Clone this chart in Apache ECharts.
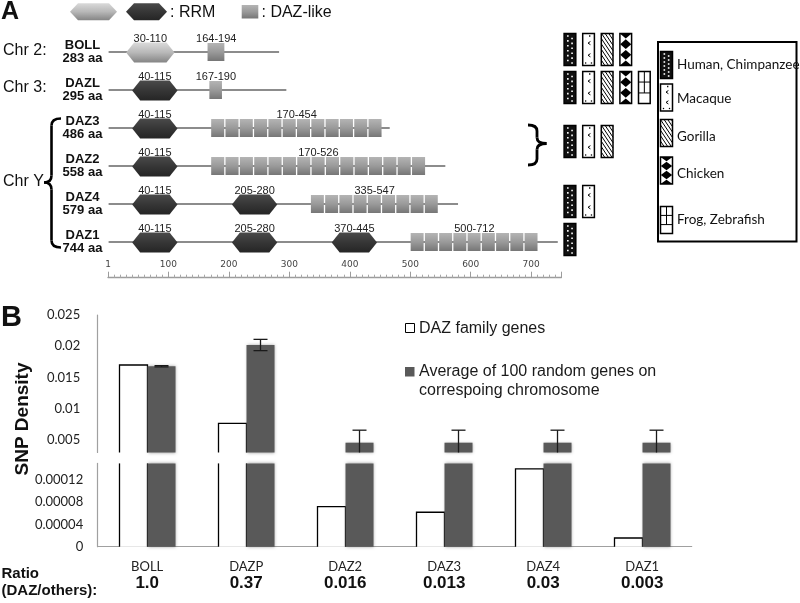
<!DOCTYPE html>
<html><head><meta charset="utf-8">
<script src="https://cdn.jsdelivr.net/npm/echarts@6.0.0/dist/echarts.min.js"></script>
<style>html,body{margin:0;padding:0;background:#fff;}#chart{width:800px;height:603px;}</style>
</head><body><div id="chart"></div>
<script>
// ---------- Panel A data ----------
const genes = ['BOLL', 'DAZL', 'DAZ3', 'DAZ2', 'DAZ4', 'DAZ1'];
const geneLengths = [283, 295, 486, 558, 579, 744];
const drawnLengths = [283, 295, 466, 558, 579, 744];
const chrLabels = ['Chr 2:', 'Chr 3:', 'Chr Y'];
const rrmGene = [0, 1, 2, 3, 4, 4, 5, 5, 5];
const rrmStarts = [30, 40, 40, 40, 40, 205, 40, 205, 370];
const rrmEnds = [110, 115, 115, 115, 115, 280, 115, 280, 445];
const rrmDark = [0, 1, 1, 1, 1, 1, 1, 1, 1];
const dazGene = [0, 1, 2, 3, 4, 5];
const dazStarts = [164, 167, 170, 170, 335, 500];
const dazEnds = [194, 190, 454, 526, 547, 712];
const dazRepeats = [1, 1, 12, 15, 9, 9];
const species = ['Human, Chimpanzee', 'Macaque', 'Gorilla', 'Chicken', 'Frog, Zebrafish'];
const consGroups = [[0], [1], [2, 3], [4], [5]];
const consPresence = [[1, 1, 1, 1, 0], [1, 1, 1, 1, 1], [1, 1, 1, 0, 0], [1, 1, 0, 0, 0], [1, 0, 0, 0, 0]];
const rulerMax = 750;
const rulerStep = 100;

// ---------- Panel B data ----------
const snpGenes = ['BOLL', 'DAZP', 'DAZ2', 'DAZ3', 'DAZ4', 'DAZ1'];
const dazFamilySnp = [0.0170, 0.00767, 0.000072, 0.000062, 0.000140, 0.0000157];
const randomSnp = [0.0168, 0.0202, 0.00457, 0.00457, 0.00457, 0.00457];
const randomErr = [0.0001, 0.0009, 0.0020, 0.0020, 0.0020, 0.0020];
const ratioLabels = ['1.0', '0.37', '0.016', '0.013', '0.03', '0.003'];
const upperTicks = [0.005, 0.01, 0.015, 0.02, 0.025];
const lowerTicks = [0, 0.00004, 0.00008, 0.00012];
const upperRange = [0.003, 0.025];
const lowerRange = [0, 0.00015];
const legendB = ['DAZ family genes', 'Average of 100 random genes on', 'correspoing chromosome'];

// ---------- helpers ----------
const ARIAL = 'Liberation Sans, Arial, sans-serif';
const CALI = 'Lato, Carlito, sans-serif';
function grad(stops) { return new echarts.graphic.LinearGradient(0, 0, 0, 1, stops.map((c, i) => ({ offset: i / (stops.length - 1), color: c }))); }
function lightHex() { return grad(['#dadada', '#b8b8b8', '#858585']); }
function darkHex() { return grad(['#4a4a4a', '#363636', '#252525']); }
function boxGrad() { return grad(['#b4b4b4', '#9a9a9a', '#767676']); }
function hexPts(x0, x1, yc, h, ins) {
  return [[x0, yc], [x0 + ins, yc - h / 2], [x1 - ins, yc - h / 2], [x1, yc], [x1 - ins, yc + h / 2], [x0 + ins, yc + h / 2]];
}
function hatch(x, y, w, h, step, k) {
  const out = [];
  for (let c = -h / k; c < w; c += step) {
    const t0 = Math.max(0, -c), t1 = Math.min(w - c, h / k);
    if (t1 > t0) out.push({ type: 'line', shape: { x1: x + c + t0, y1: y + k * t0, x2: x + c + t1, y2: y + k * t1 }, style: { stroke: '#000', lineWidth: 1 } });
  }
  return out;
}
function sq(cx, cy, s, col) { return { type: 'rect', shape: { x: cx - s / 2, y: cy - s / 2, width: s, height: s }, style: { fill: col } }; }
function speciesIcon(s, x, y, w, h) {
  const ch = [];
  const bg = { type: 'rect', shape: { x: x, y: y, width: w, height: h }, style: { fill: '#fff' } };
  if (s === 0) {
    ch.push({ type: 'rect', shape: { x: x, y: y, width: w, height: h }, style: { fill: '#111' } });
    const n = 6, dy = (h - 5) / (n - 0.5);
    for (let i = 0; i < n; i++) {
      ch.push(sq(x + w * 0.32, y + 2.5 + i * dy, 1.6, '#fff'));
      ch.push(sq(x + w * 0.68, y + 2.5 + dy / 2 + i * dy, 1.6, '#fff'));
    }
  } else if (s === 1) {
    ch.push(bg);
    [0.3, 0.68].forEach(f => {
      const cx = x + w * 0.55, cy = y + h * f;
      ch.push({ type: 'polyline', shape: { points: [[cx + 1.3, cy - 1.6], [cx - 1.1, cy], [cx + 1.3, cy + 1.6]] }, style: { stroke: '#000', lineWidth: 1, fill: 'none' } });
    });
    ch.push(sq(x + w * 0.6, y + 2.5, 1.3, '#000'));
    ch.push(sq(x + w * 0.25, y + h - 2.5, 1.3, '#000'));
    ch.push(sq(x + w * 0.75, y + h - 2.5, 1.3, '#000'));
  } else if (s === 2) {
    ch.push(bg);
    hatch(x, y, w, h, 3.6, 1.5).forEach(l => ch.push(l));
  } else if (s === 3) {
    ch.push(bg);
    const dh = h / 6 * 0.92, cx = x + w / 2;
    ch.push({ type: 'polygon', shape: { points: [[x, y], [x + w, y], [cx, y + dh]] }, style: { fill: '#000' } });
    ch.push({ type: 'polygon', shape: { points: [[x, y + h], [x + w, y + h], [cx, y + h - dh]] }, style: { fill: '#000' } });
    [1, 2].forEach(k => {
      const cy = y + k * h / 3;
      ch.push({ type: 'polygon', shape: { points: [[cx, cy - dh], [x + w - 0.3, cy], [cx, cy + dh], [x + 0.3, cy]] }, style: { fill: '#000' } });
    });
  } else {
    ch.push(bg);
    const l = (x1, y1, x2, y2) => ({ type: 'line', shape: { x1, y1, x2, y2 }, style: { stroke: '#000', lineWidth: 1 } });
    ch.push(l(x, y + h * 0.33, x + w, y + h * 0.33));
    ch.push(l(x, y + h * 0.67, x + w, y + h * 0.67));
    ch.push(l(x + w / 2, y, x + w / 2, y + h * 0.67));
  }
  ch.push({ type: 'rect', shape: { x: x, y: y, width: w, height: h }, style: { fill: 'none', stroke: '#000', lineWidth: 1.5 } });
  return ch;
}
// curly brace built from lines and quadratic curves; dir = -1 tip to left, +1 tip to right
function brace(xv, xe, tipX, yTop, yMid, yBot, r, lw) {
  const st = { stroke: '#000', lineWidth: lw, fill: 'none' };
  const q = (x1, y1, cx, cy, x2, y2) => ({ type: 'bezierCurve', shape: { x1, y1, cpx1: cx, cpy1: cy, x2, y2 }, style: st });
  const l = (x1, y1, x2, y2) => ({ type: 'line', shape: { x1, y1, x2, y2 }, style: st });
  return [
    q(xe, yTop, xv, yTop, xv, yTop + r),
    l(xv, yTop + r, xv, yMid - r),
    q(xv, yMid - r, xv, yMid, tipX, yMid),
    q(tipX, yMid, xv, yMid, xv, yMid + r),
    l(xv, yMid + r, xv, yBot - r),
    q(xv, yBot - r, xv, yBot, xe, yBot)
  ];
}

// ---------- series data built from arrays ----------
const lineData = genes.map((g, i) => [i, 1, drawnLengths[i]]);
const rrmData = rrmGene.map((g, i) => [g, rrmStarts[i], rrmEnds[i], rrmDark[i]]);
const dazData = dazGene.map((g, i) => [g, dazStarts[i], dazEnds[i], dazRepeats[i]]);
const iconData = [];
consPresence.forEach((row, g) => row.forEach((p, s) => { if (p) iconData.push([s, g]); }));
const whiteData = snpGenes.map((g, i) => [i, dazFamilySnp[i]]);
const darkData = snpGenes.map((g, i) => [i, randomSnp[i]]);
const errData = snpGenes.map((g, i) => [i, randomSnp[i], randomErr[i]]);

const BARF = 0.283;
function whiteBar(p, api) {
  const i = api.value(0), v = api.value(1), cs = p.coordSys;
  const bw = api.size([1, 0])[0] * BARF;
  const base = api.coord([i, 0]), top = api.coord([i, v]);
  const yb = Math.min(base[1], cs.y + cs.height);
  const yt = Math.max(top[1], cs.y);
  if (yt >= yb) return null;
  const x0 = Math.round(base[0] - bw) + 0.5, x1 = Math.round(base[0]) + 0.5;
  const ch = [{ type: 'rect', shape: { x: x0, y: yt, width: x1 - x0, height: yb - yt }, style: { fill: '#fff' } }];
  const st = { stroke: '#000', lineWidth: 1.3, fill: 'none' };
  if (top[1] >= cs.y) {
    ch.push({ type: 'polyline', shape: { points: [[x0, yb], [x0, yt], [x1, yt], [x1, yb]] }, style: st });
  } else {
    ch.push({ type: 'line', shape: { x1: x0, y1: yb, x2: x0, y2: yt }, style: st });
    ch.push({ type: 'line', shape: { x1: x1, y1: yb, x2: x1, y2: yt }, style: st });
  }
  return { type: 'group', children: ch };
}
function darkBar(p, api) {
  const i = api.value(0), v = api.value(1), cs = p.coordSys;
  const bw = api.size([1, 0])[0] * BARF;
  const base = api.coord([i, 0]), top = api.coord([i, v]);
  const yb = Math.min(base[1], cs.y + cs.height);
  const yt = Math.max(top[1], cs.y);
  if (yt >= yb) return null;
  const x0 = Math.round(base[0]) + 0.5;
  return { type: 'rect', shape: { x: x0, y: yt, width: bw, height: yb - yt }, style: { fill: '#595959', shadowBlur: 3, shadowColor: 'rgba(0,0,0,0.35)' } };
}
function errBar(p, api) {
  const i = api.value(0), v = api.value(1), e = api.value(2), cs = p.coordSys;
  const bw = api.size([1, 0])[0] * BARF;
  const base = api.coord([i, v]);
  const x = Math.round(base[0]) + 0.5 + bw / 2;
  const hi = api.coord([i, v + e])[1], lo = api.coord([i, v - e])[1];
  const y1 = Math.max(hi, cs.y), y2 = Math.min(lo, cs.y + cs.height);
  const st = { stroke: '#1a1a1a', lineWidth: 1.3 };
  const ch = [{ type: 'line', shape: { x1: x, y1: y1, x2: x, y2: y2 }, style: st }];
  if (hi >= cs.y) ch.push({ type: 'line', shape: { x1: x - 7, y1: hi, x2: x + 7, y2: hi }, style: st });
  if (lo <= cs.y + cs.height) ch.push({ type: 'line', shape: { x1: x - 7, y1: lo, x2: x + 7, y2: lo }, style: st });
  return { type: 'group', children: ch };
}

// ---------- graphic (annotations) ----------
const G = [];
const txt = (t, x, y, font, extra) => Object.assign({ type: 'text', x: x, y: y, style: Object.assign({ text: t, fill: '#111', align: 'left', verticalAlign: 'middle' }, font) }, extra || {});
G.push(txt('A', 1, 12.5, { fontFamily: ARIAL, fontWeight: 'bold', fontSize: 25 }));
G.push({ type: 'polygon', shape: { points: hexPts(70, 117, 11.7, 17, 8) }, style: { fill: lightHex() } });
G.push({ type: 'polygon', shape: { points: hexPts(126, 167, 11.7, 17, 8) }, style: { fill: darkHex() } });
G.push(txt(': RRM', 170, 12.5, { fontFamily: ARIAL, fontSize: 16 }));
G.push({ type: 'rect', shape: { x: 241.7, y: 5, width: 16.6, height: 13.5 }, style: { fill: boxGrad() } });
G.push(txt(': DAZ-like', 261.5, 12.5, { fontFamily: ARIAL, fontSize: 16 }));
G.push(txt(chrLabels[0], 3, 50.5, { fontFamily: ARIAL, fontSize: 16 }));
G.push(txt(chrLabels[1], 3, 88, { fontFamily: ARIAL, fontSize: 16 }));
G.push(txt(chrLabels[2], 3, 182, { fontFamily: ARIAL, fontSize: 16 }));
G.push({ type: 'group', children: brace(51.5, 61, 44, 118.5, 182.5, 247.5, 7, 2.6) });
G.push({ type: 'group', children: brace(537, 528, 546.5, 125, 143.5, 165, 6, 2.8) });
// species legend box
G.push({ type: 'rect', shape: { x: 658, y: 42, width: 138.5, height: 199.5 }, style: { fill: 'none', stroke: '#000', lineWidth: 2 } });
const legIconY = [65, 97.5, 133, 170.5, 220];
const legTextY = [65, 99, 136.5, 173.5, 219.5];
species.forEach((s, k) => {
  G.push({ type: 'group', children: speciesIcon(k, 660.5, legIconY[k] - 13.5, 12, 27) });
  G.push(txt(s, 677, legTextY[k], { fontFamily: CALI, fontSize: 13.5, fill: '#111' }));
});
// panel B annotations
G.push(txt('B', 1, 318, { fontFamily: ARIAL, fontWeight: 'bold', fontSize: 29 }));
G.push(txt('SNP Density', 22.5, 419, { fontFamily: ARIAL, fontWeight: 'bold', fontSize: 19, align: 'center' }, { rotation: Math.PI / 2 }));
G.push({ type: 'rect', shape: { x: 405.5, y: 323.5, width: 9, height: 9 }, style: { fill: '#fff', stroke: '#000', lineWidth: 1 } });
G.push(txt(legendB[0], 419, 328.5, { fontFamily: ARIAL, fontSize: 16, fill: '#1a1a1a' }));
G.push({ type: 'rect', shape: { x: 405, y: 367, width: 9.5, height: 9.5 }, style: { fill: '#595959' } });
G.push(txt(legendB[1], 419, 372, { fontFamily: ARIAL, fontSize: 16, fill: '#1a1a1a' }));
G.push(txt(legendB[2], 419, 390.5, { fontFamily: ARIAL, fontSize: 16, fill: '#1a1a1a' }));
G.push(txt('Ratio', 1.5, 573.5, { fontFamily: ARIAL, fontWeight: 'bold', fontSize: 15 }));
G.push(txt('(DAZ/others):', 1.5, 590.5, { fontFamily: ARIAL, fontWeight: 'bold', fontSize: 15 }));

const hid = { show: false };
const option = {
  animation: false,
  backgroundColor: '#fff',
  grid: [
    { left: 108, top: 33, width: 453.4, height: 228, outerBoundsMode: 'none' },
    { left: 560.6, top: 33, width: 93, height: 228, outerBoundsMode: 'none' },
    { left: 97.7, top: 315, width: 594, height: 137.5, outerBoundsMode: 'none' },
    { left: 97.7, top: 463.4, width: 594, height: 83.3, outerBoundsMode: 'none' }
  ],
  xAxis: [
    { gridIndex: 0, type: 'value', min: 0, max: rulerMax, interval: rulerStep, position: 'bottom', offset: 16.7,
      axisLine: { show: true, lineStyle: { color: '#9c9c9c', width: 1.3 } },
      axisTick: { show: true, inside: true, length: 6, lineStyle: { color: '#9c9c9c' } },
      minorTick: { show: true, splitNumber: 10, length: 3, lineStyle: { color: '#a8a8a8' } },
      splitLine: hid, minorSplitLine: hid,
      axisLabel: { inside: true, margin: 9, fontFamily: 'DejaVu Sans', fontSize: 9, color: '#444', showMaxLabel: false,
        formatter: v => (v === 0 ? '1' : String(v)) } },
    { gridIndex: 1, type: 'category', data: species, show: false },
    { gridIndex: 2, type: 'category', data: snpGenes, show: false },
    { gridIndex: 3, type: 'category', data: snpGenes,
      axisLine: { show: true, lineStyle: { color: '#a0a0a0', width: 1.2 } }, axisTick: hid, splitLine: hid,
      axisLabel: { interval: 0, margin: 12, formatter: (v, i) => '{c|' + v + '}\n{r|' + ratioLabels[i] + '}',
        rich: { c: { fontFamily: CALI, fontSize: 13, color: '#222', lineHeight: 16 },
                r: { fontFamily: ARIAL, fontWeight: 'bold', fontSize: 17, color: '#111', lineHeight: 17 } } } }
  ],
  yAxis: [
    { gridIndex: 0, type: 'category', data: genes, inverse: true, axisLine: hid, axisTick: hid, splitLine: hid,
      axisLabel: { interval: 0, margin: 25.5, align: 'center', formatter: (v, i) => '{n|' + v + '}\n{n|' + geneLengths[i] + ' aa}',
        rich: { n: { fontFamily: ARIAL, fontWeight: 'bold', fontSize: 13, color: '#111', lineHeight: 12.5, align: 'center' } } } },
    { gridIndex: 1, type: 'category', data: genes, inverse: true, show: false },
    { gridIndex: 2, type: 'value', min: upperRange[0], max: upperRange[1],
      axisLine: { show: true, lineStyle: { color: '#a0a0a0', width: 1.2 } }, axisTick: hid, splitLine: hid,
      axisLabel: { customValues: upperTicks, margin: 17.5, fontFamily: CALI, fontSize: 13, color: '#222',
        formatter: v => String(+v.toFixed(3)) } },
    { gridIndex: 3, type: 'value', min: lowerRange[0], max: lowerRange[1],
      axisLine: { show: true, lineStyle: { color: '#a0a0a0', width: 1.2 } }, axisTick: hid, splitLine: hid,
      axisLabel: { customValues: lowerTicks, margin: 14.5, fontFamily: CALI, fontSize: 13, color: '#222',
        formatter: v => (v === 0 ? '0' : v.toFixed(5)) } }
  ],
  series: [
    { type: 'custom', name: 'lines', xAxisIndex: 0, yAxisIndex: 0, data: lineData, encode: { x: [1, 2], y: 0 }, silent: true,
      renderItem: (p, api) => {
        const r = api.value(0), a = api.coord([api.value(1), r]), b = api.coord([api.value(2), r]);
        return { type: 'line', shape: { x1: a[0], y1: a[1], x2: b[0], y2: b[1] }, style: { stroke: '#8c8c8c', lineWidth: 2 } };
      } },
    { type: 'custom', name: 'DAZ-like', xAxisIndex: 0, yAxisIndex: 0, data: dazData, encode: { x: [1, 2], y: 0 }, silent: true,
      renderItem: (p, api) => {
        const r = api.value(0), s = api.value(1), e = api.value(2), n = api.value(3);
        const pitch = (e - s) / n, ch = [];
        const yc = api.coord([s, r])[1];
        for (let k = 0; k < n; k++) {
          const x0 = api.coord([s + k * pitch, r])[0], x1 = api.coord([s + (k + 1) * pitch, r])[0];
          ch.push({ type: 'rect', shape: { x: x0 + 0.4, y: yc - 9, width: x1 - x0 - 1.3, height: 18 }, style: { fill: boxGrad() } });
        }
        const xa = api.coord([s, r])[0], xb = api.coord([e, r])[0];
        ch.push({ type: 'text', x: (xa + xb) / 2, y: yc - 13.5, style: { text: s + '-' + e, fontFamily: ARIAL, fontSize: 11, fill: '#222', align: 'center', verticalAlign: 'middle' } });
        return { type: 'group', children: ch };
      } },
    { type: 'custom', name: 'RRM', xAxisIndex: 0, yAxisIndex: 0, data: rrmData, encode: { x: [1, 2], y: 0 }, silent: true,
      renderItem: (p, api) => {
        const r = api.value(0), s = api.value(1), e = api.value(2), k = api.value(3);
        const a = api.coord([s, r]), b = api.coord([e, r]);
        return { type: 'group', children: [
          { type: 'polygon', shape: { points: hexPts(a[0], b[0], a[1] + 0.5, 20, 8) }, style: { fill: k ? darkHex() : lightHex() } },
          { type: 'text', x: (a[0] + b[0]) / 2, y: a[1] - 13.5, style: { text: s + '-' + e, fontFamily: ARIAL, fontSize: 11, fill: '#222', align: 'center', verticalAlign: 'middle' } }
        ] };
      } },
    { type: 'custom', name: 'conservation', xAxisIndex: 1, yAxisIndex: 1, data: iconData, encode: { x: 0, y: 1 }, silent: true,
      renderItem: (p, api) => {
        const s = api.value(0), g = api.value(1);
        const rows = consGroups[g];
        const x = api.coord([s, rows[0]])[0];
        let y = 0; rows.forEach(r => { y += api.coord([s, r])[1]; }); y /= rows.length;
        return { type: 'group', children: speciesIcon(s, x - 5.8, y - 18.5 + (rows.length > 1 ? -3 : 0), 11.7, 32) };
      } },
    { type: 'custom', name: 'DAZ family genes', xAxisIndex: 2, yAxisIndex: 2, data: whiteData, encode: { x: 0, y: 1 }, renderItem: whiteBar, silent: true },
    { type: 'custom', name: 'DAZ family genes', xAxisIndex: 3, yAxisIndex: 3, data: whiteData, encode: { x: 0, y: 1 }, renderItem: whiteBar, silent: true },
    { type: 'custom', name: 'Average', xAxisIndex: 2, yAxisIndex: 2, data: darkData, encode: { x: 0, y: 1 }, renderItem: darkBar, silent: true },
    { type: 'custom', name: 'Average', xAxisIndex: 3, yAxisIndex: 3, data: darkData, encode: { x: 0, y: 1 }, renderItem: darkBar, silent: true },
    { type: 'custom', name: 'err', xAxisIndex: 2, yAxisIndex: 2, data: errData, encode: { x: 0, y: 1 }, renderItem: errBar, silent: true, z: 5 }
  ],
  graphic: G
};
const chart = echarts.init(document.getElementById('chart'), null, { renderer: 'canvas', width: 800, height: 603 });
chart.setOption(option);
</script></body></html>
